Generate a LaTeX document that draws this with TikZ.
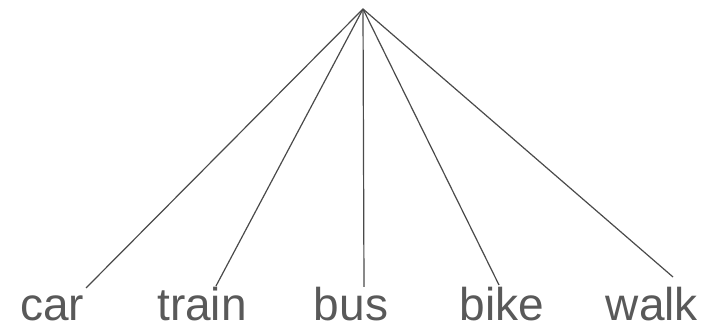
\documentclass[tikz,border=0pt]{standalone}
\usepackage{fontspec}
\setmainfont{Liberation Sans}
\definecolor{txt}{HTML}{595959}
\definecolor{ln}{HTML}{4A4A4A}
\begin{document}
\begin{tikzpicture}[x=1pt,y=1pt,
  leaf/.style={inner sep=0pt, anchor=base, text=txt, font=\fontsize{46}{50}\selectfont},
  edge/.style={draw=ln, line width=1.2pt}]
\useasboundingbox (0,0) rectangle (713,326);
\coordinate (root) at (363,317);
\node[leaf] (car) at (52,5) {car};
\node[leaf] (train) at (202,5) {train};
\node[leaf] (bus) at (351,5) {bus};
\node[leaf] (bike) at (502,5) {bike};
\node[leaf] (walk) at (652,5) {walk};
\coordinate (ecar) at (86,38);
\coordinate (etrain) at (216,40);
\coordinate (ebus) at (364,39);
\coordinate (ebike) at (499,41);
\coordinate (ewalk) at (673,49);
\foreach \e in {ecar,etrain,ebus,ebike,ewalk}
  \draw[edge] (root) -- (\e);
\end{tikzpicture}
\end{document}
